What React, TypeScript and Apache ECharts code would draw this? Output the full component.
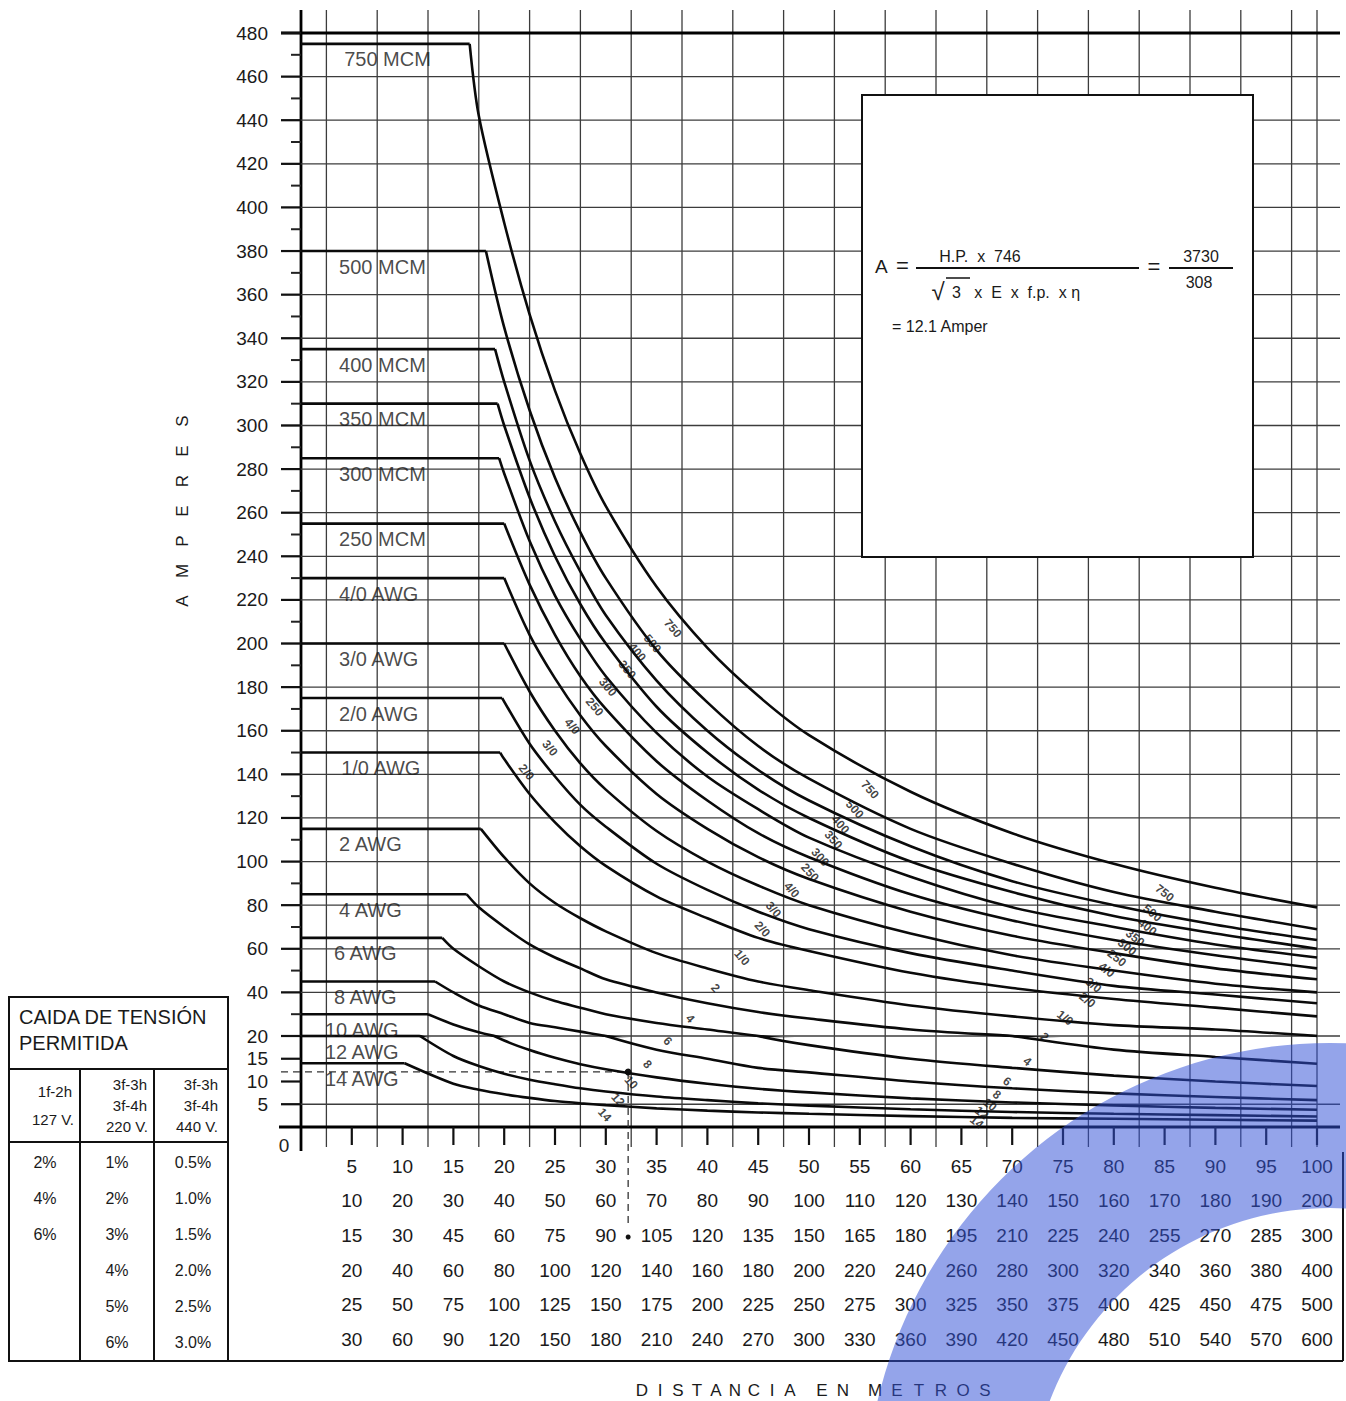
import React, { useEffect, useRef } from "react";
import * as echarts from "echarts";

const FONT = "'Liberation Sans', Arial, Helvetica, sans-serif";

// ---- conductors ----
const CABLES = ["750 MCM", "500 MCM", "400 MCM", "350 MCM", "300 MCM", "250 MCM", "4/0 AWG", "3/0 AWG", "2/0 AWG", "1/0 AWG", "2 AWG", "4 AWG", "6 AWG", "8 AWG", "10 AWG", "12 AWG", "14 AWG"];
const TAGS = ["750", "500", "400", "350", "300", "250", "4/0", "3/0", "2/0", "1/0", "2", "4", "6", "8", "10", "12", "14"];
const AMPACITY = [475, 380, 335, 310, 285, 255, 230, 200, 175, 150, 115, 85, 65, 45, 30, 20, 14];
const KNEE = [16.6, 18.2, 19.1, 19.35, 19.5, 20, 20, 20, 19.8, 19.6, 17.7, 16.3, 13.9, 13.2, 12.5, 11.7, 10.2];
const LABEL_AT = [4.3, 3.8, 3.8, 3.8, 3.8, 3.8, 3.8, 3.8, 3.8, 4.0, 3.8, 3.8, 3.3, 3.3, 2.4, 2.4, 2.4];

// distances (first row of the scale) at which the falling part of each curve is read
const DIST = [15, 17.5, 20, 22.5, 25, 27.5, 30, 35, 40, 45, 50, 60, 70, 80, 90, 100];
const A_750 = [null, 442, 393, 351, 316, 287, 263, 226, 198, 176, 158, 132, 113, 99, 88, 79];
const A_500 = [null, null, 345, 307, 276, 251, 230, 197, 173, 153, 138, 115, 99, 86, 77, 69];
const A_400 = [null, null, 320, 284, 256, 233, 213, 183, 160, 142, 128, 107, 91, 80, 71, 64];
const A_350 = [null, null, 300, 267, 240, 218, 200, 171, 150, 133, 120, 100, 86, 75, 67, 60];
const A_300 = [null, null, 278, 247, 222, 202, 185, 159, 139, 124, 111, 93, 79, 70, 62, 56];
const A_250 = [null, null, null, 227, 204, 185, 170, 146, 128, 113, 102, 85, 73, 64, 57, 51];
const A_4_0 = [null, null, null, 204, 184, 167, 153, 131, 115, 102, 92, 77, 66, 58, 51, 46];
const A_3_0 = [null, null, null, 178, 160, 145, 133, 114, 100, 89, 80, 67, 57, 50, 44, 40];
const A_2_0 = [null, null, null, 154, 139, 126, 116, 99, 87, 77, 69, 58, 50, 43, 39, 35];
const A_1_0 = [null, null, 147, 131, 118, 107, 98, 84, 74, 65, 59, 49, 42, 37, 33, 29];
const A_2 = [null, null, 102, 90, 81, 74, 68, 58, 51, 45, 41, 34, 29, 25, 23, 20];
const A_4 = [null, 79, 70, 62, 56, 51, 46, 40, 35, 31, 28, 23, 20, 17, 15.4, 13.9];
const A_6 = [60, 52, 45, 40, 36, 33, 30, 26, 23, 20, 18, 15, 13, 11.3, 10, 9];
const A_8 = [40, 34, 30, 26, 24, 22, 20, 17, 15, 13, 12, 10, 8.5, 7.4, 6.6, 5.9];
const A_10 = [25.3, 21.7, 19, 16.9, 15.2, 13.8, 12.7, 10.9, 9.5, 8.4, 7.6, 6.3, 5.4, 4.75, 4.2, 3.8];
const A_12 = [15.6, 13.4, 11.7, 10.4, 9.4, 8.5, 7.8, 6.7, 5.9, 5.2, 4.7, 3.9, 3.3, 2.9, 2.6, 2.3];
const A_14 = [9.5, 8.2, 7.2, 6.4, 5.7, 5.2, 4.8, 4.1, 3.6, 3.2, 2.9, 2.4, 2.0, 1.8, 1.6, 1.4];
const CURVES = [A_750, A_500, A_400, A_350, A_300, A_250, A_4_0, A_3_0, A_2_0, A_1_0, A_2, A_4, A_6, A_8, A_10, A_12, A_14];

// small gauge tags written along the curves (three groups)
const TAG1_X = [36.6, 34.6, 33.1, 32.1, 30.2, 28.9, 26.7, 24.5, 22.2];
const TAG1_Y = [207, 200, 196, 188, 180, 171, 162, 152, 141];
const TAG2_X = [56.0, 54.5, 53.1, 52.4, 51.1, 50.1, 48.3, 46.5, 45.4, 43.4, 40.8, 38.3, 36.1, 34.1, 32.5, 31.2, 29.9];
const TAG2_Y = [133, 124, 117, 110, 102, 95, 87, 78, 69, 56, 42, 28, 18.9, 13.8, 9.8, 6.0, 2.7];
const TAG3_X = [85.0, 83.8, 83.3, 82.1, 81.3, 80.3, 79.3, 78.0, 77.4, 75.2, 73.2, 71.5, 69.5, 68.5, 67.8, 67.0, 66.5];
const TAG3_Y = [85.6, 76.4, 70.0, 65.0, 60.8, 55.8, 50.3, 43.4, 36.5, 28.3, 19.8, 14.4, 10.0, 7.1, 4.9, 3.1, 1.1];

// axes
const AMP_LINES = [20, 40, 60, 80, 100, 120, 140, 160, 180, 200, 220, 240, 260, 280, 300, 320, 340, 360, 380, 400, 420, 440, 460, 480];
const AMP_MINOR = [30, 50, 70, 90, 110, 130, 150, 170, 190, 210, 230, 250, 270, 290, 310, 330, 350, 370, 390, 410, 430, 450, 470];
const AMP_LOW_LINES = [5];
const AMP_LOW_TICKS = [5, 10, 15];
const DIST_GRID = [0, 2.5, 7.5, 12.5, 17.5, 22.5, 27.5, 32.5, 37.5, 42.5, 47.5, 52.5, 57.5, 62.5, 67.5, 72.5, 77.5, 82.5, 87.5, 92.5, 97.5, 100];
const DIST_TICKS = [5, 10, 15, 20, 25, 30, 35, 40, 45, 50, 55, 60, 65, 70, 75, 80, 85, 90, 95, 100];
const ROW_FACTORS = [1, 2, 3, 4, 5, 6];
const EXAMPLE_AMP = 12.1;
const EXAMPLE_DIST = 32.2;

// voltage drop table
const DROP_127 = ["2%", "4%", "6%"];
const DROP_220 = ["1%", "2%", "3%", "4%", "5%", "6%"];
const DROP_440 = ["0.5%", "1.0%", "1.5%", "2.0%", "2.5%", "3.0%"];

const GRID_C = "#3c3c3c";

function elementSeries(gridIndex: number, els: any[]) {
  return {
    type: "custom",
    xAxisIndex: gridIndex,
    yAxisIndex: gridIndex,
    clip: false,
    silent: true,
    z: 1,
    data: els.map((e) => e.a),
    renderItem: (params: any, api: any) => {
      const e = els[params.dataIndex];
      const p = api.coord(e.a);
      if (e.k === "l") {
        const q = api.coord(e.b);
        const da = e.da || [0, 0];
        const db = e.db || [0, 0];
        const style: any = { stroke: e.c, lineWidth: e.w };
        if (e.dash) style.lineDash = e.dash;
        return {
          type: "line",
          shape: { x1: p[0] + da[0], y1: p[1] + da[1], x2: q[0] + db[0], y2: q[1] + db[1] },
          style,
        };
      }
      if (e.k === "t") {
        return {
          type: "text",
          x: p[0] + e.d[0],
          y: p[1] + e.d[1],
          style: { text: e.text, fill: "#222", font: `${e.size}px ${FONT}`, align: "center", verticalAlign: "middle" },
        };
      }
      return {
        type: "circle",
        shape: { cx: p[0] + e.d[0], cy: p[1] + e.d[1], r: e.r },
        style: { fill: "#111" },
      };
    },
  };
}

function buildOption() {
  // ---- grid lines / ticks ----
  const upper: any[] = [];
  DIST_GRID.forEach((x) =>
    upper.push({ k: "l", a: [x, 480], da: [0, -23], b: [x, 20], w: x === 0 ? 2.8 : 1.3, c: x === 0 ? "#000" : GRID_C })
  );
  AMP_LINES.forEach((y) => {
    upper.push({ k: "l", a: [0, y], da: [-20, 0], b: [100, y], db: [23, 0], w: y === 480 ? 2.8 : 1.3, c: y === 480 ? "#000" : GRID_C });
    upper.push({ k: "l", a: [0, y], da: [-20, 0], b: [0, y], w: 2.2, c: "#111" });
  });
  AMP_MINOR.forEach((y) => upper.push({ k: "l", a: [0, y], da: [-10, 0], b: [0, y], w: 2, c: "#222" }));

  const lower: any[] = [];
  DIST_GRID.forEach((x) =>
    lower.push({ k: "l", a: [x, 20], b: [x, 0], db: [0, x === 0 ? 24 : 20], w: x === 0 ? 2.8 : 1.3, c: x === 0 ? "#000" : GRID_C })
  );
  AMP_LOW_LINES.forEach((y) => lower.push({ k: "l", a: [0, y], da: [-20, 0], b: [100, y], db: [23, 0], w: 1.3, c: GRID_C }));
  AMP_LOW_TICKS.forEach((y) => lower.push({ k: "l", a: [0, y], da: [-20, 0], b: [0, y], w: 2.2, c: "#111" }));
  lower.push({ k: "l", a: [0, 0], da: [-22, 0], b: [100, 0], db: [23, 0], w: 2.8, c: "#000" });
  DIST_TICKS.forEach((x) => lower.push({ k: "l", a: [x, 0], b: [x, 0], db: [0, 18], w: 2.2, c: "#111" }));
  lower.push({ k: "l", a: [0, EXAMPLE_AMP], da: [-20, 0], b: [EXAMPLE_DIST, EXAMPLE_AMP], w: 1.3, c: "#333", dash: [7, 5] });
  lower.push({ k: "l", a: [EXAMPLE_DIST, EXAMPLE_AMP], b: [EXAMPLE_DIST, 0], db: [0, 98], w: 1.3, c: "#333", dash: [7, 5] });
  lower.push({ k: "c", a: [EXAMPLE_DIST, EXAMPLE_AMP], d: [0, 0], r: 3.5 });
  lower.push({ k: "c", a: [EXAMPLE_DIST, 0], d: [0, 110], r: 2.5 });
  lower.push({ k: "t", a: [0, 0], d: [-17, 18], text: "0", size: 19 });

  const series: any[] = [elementSeries(0, upper), elementSeries(1, lower)];

  // ---- curves ----
  const lineCommon = {
    type: "line",
    showSymbol: false,
    symbol: "none",
    clip: true,
    silent: true,
    z: 3,
    lineStyle: { color: "#0a0a0a", width: 2.6 },
  };
  CURVES.forEach((vals, i) => {
    const P = AMPACITY[i];
    const k = KNEE[i];
    const decay: number[][] = [[k, P]];
    DIST.forEach((d, j) => {
      if (vals[j] != null) decay.push([d, vals[j] as number]);
    });
    const minV = Math.min(...(vals.filter((v) => v != null) as number[]));
    const grids: number[] = [];
    if (P >= 19.5) grids.push(0);
    if (minV < 20.5) grids.push(1);
    grids.forEach((g) => {
      series.push({ ...lineCommon, xAxisIndex: g, yAxisIndex: g, data: [[0, P], [k, P]] });
      series.push({ ...lineCommon, xAxisIndex: g, yAxisIndex: g, data: decay, smooth: 0.3 });
    });
  });

  // ---- plateau names ----
  const nameData = [[], []] as any[][];
  CABLES.forEach((c, i) => {
    const g = AMPACITY[i] >= 19.5 ? 0 : 1;
    nameData[g].push({ name: c, value: [LABEL_AT[i], AMPACITY[i]] });
  });
  [0, 1].forEach((g) =>
    series.push({
      type: "scatter",
      xAxisIndex: g,
      yAxisIndex: g,
      symbolSize: 1,
      itemStyle: { color: "rgba(0,0,0,0)" },
      silent: true,
      clip: false,
      z: 5,
      data: nameData[g],
      label: {
        show: true,
        position: [0, 16],
        align: "left",
        verticalAlign: "middle",
        formatter: "{b}",
        fontSize: 20,
        color: "#1a1a1a",
        fontFamily: FONT,
      },
    })
  );

  // ---- gauge tags along curves ----
  const tagData = [[], []] as any[][];
  const addTags = (xs: number[], ys: number[], rot: number) => {
    xs.forEach((x, i) => {
      const g = ys[i] >= 20 ? 0 : 1;
      tagData[g].push({ name: TAGS[i], value: [x, ys[i]], label: { rotate: rot } });
    });
  };
  addTags(TAG1_X, TAG1_Y, -50);
  addTags(TAG2_X, TAG2_Y, -48);
  addTags(TAG3_X, TAG3_Y, -38);
  [0, 1].forEach((g) =>
    series.push({
      type: "scatter",
      xAxisIndex: g,
      yAxisIndex: g,
      symbolSize: 1,
      itemStyle: { color: "rgba(0,0,0,0)" },
      silent: true,
      clip: false,
      z: 6,
      data: tagData[g],
      label: {
        show: true,
        position: "inside",
        formatter: "{b}",
        fontSize: 12,
        fontWeight: "bold",
        color: "#111",
        fontFamily: FONT,
      },
    })
  );

  // ---- static graphics ----
  const T = (text: string, x: number, y: number, size: number, align = "left", extra: any = {}) => ({
    type: "text",
    x,
    y,
    z: 60,
    style: { text, fill: "#1a1a1a", font: `${size}px ${FONT}`, align, verticalAlign: "middle" },
    ...extra,
  });
  const L = (x1: number, y1: number, x2: number, y2: number, w = 2, c = "#111") => ({
    type: "line",
    z: 60,
    shape: { x1, y1, x2, y2 },
    style: { stroke: c, lineWidth: w },
  });

  const graphic: any[] = [];
  // formula box
  graphic.push({ type: "rect", z: 55, shape: { x: 862, y: 95, width: 391, height: 462 }, style: { fill: "#fff", stroke: "#111", lineWidth: 2 } });
  graphic.push(T("A", 875, 266, 19));
  graphic.push(T("=", 896, 265, 22));
  graphic.push(T("H.P.  x  746", 980, 256, 16, "center"));
  graphic.push(L(916, 268, 1139, 268, 1.8));
  graphic.push(T("√", 938, 291, 24, "center"));
  graphic.push(L(946, 278, 970, 278, 1.5));
  graphic.push(T("3   x  E  x  f.p.  x η", 952, 292, 16, "left"));
  graphic.push(T("=", 1154, 266, 22, "center"));
  graphic.push(T("3730", 1201, 256, 16, "center"));
  graphic.push(L(1169, 268, 1233, 268, 1.8));
  graphic.push(T("308", 1199, 282, 16, "center"));
  graphic.push(T("= 12.1 Amper", 892, 326, 16, "left"));

  // table
  graphic.push({ type: "rect", z: 55, shape: { x: 9, y: 997, width: 219, height: 364 }, style: { fill: "#fff", stroke: "#111", lineWidth: 2 } });
  graphic.push(L(9, 1069, 228, 1069));
  graphic.push(L(9, 1142, 228, 1142));
  graphic.push(L(80, 1069, 80, 1361));
  graphic.push(L(154, 1069, 154, 1361));
  graphic.push(T("CAIDA DE TENSIÓN", 19, 1017, 20));
  graphic.push(T("PERMITIDA", 19, 1043, 20));
  graphic.push(T("1f-2h", 72, 1091, 15, "right"));
  graphic.push(T("127 V.", 74, 1119, 15, "right"));
  graphic.push(T("3f-3h", 147, 1084, 15, "right"));
  graphic.push(T("3f-4h", 147, 1105, 15, "right"));
  graphic.push(T("220 V.", 148, 1126, 15, "right"));
  graphic.push(T("3f-3h", 218, 1084, 15, "right"));
  graphic.push(T("3f-4h", 218, 1105, 15, "right"));
  graphic.push(T("440 V.", 218, 1126, 15, "right"));
  const rowY = [1162, 1198, 1234, 1270, 1306, 1342];
  DROP_127.forEach((t, i) => graphic.push(T(t, 45, rowY[i], 16, "center")));
  DROP_220.forEach((t, i) => graphic.push(T(t, 117, rowY[i], 16, "center")));
  DROP_440.forEach((t, i) => graphic.push(T(t, 193, rowY[i], 16, "center")));

  // frame of the distance scale
  graphic.push(L(9, 1361, 1343, 1361));
  graphic.push(L(1343, 1152, 1343, 1361));

  // axis titles
  const amp = ["A", "M", "P", "E", "R", "E", "S"];
  const ampY = [601, 571, 541, 511, 481, 451, 421];
  amp.forEach((ch, i) => graphic.push(T(ch, 182, ampY[i], 17, "center", { rotation: Math.PI / 2 })));
  const dist = "DISTANCIAENMETROS".split("");
  const distX = [642, 660, 678, 697, 716, 735, 754, 772, 790, 822, 843, 875, 897, 919, 941, 963, 985];
  dist.forEach((ch, i) => graphic.push(T(ch, distX[i], 1390, 17, "center")));

  // blue watermark ring
  graphic.push({
    type: "ring",
    z: 100,
    silent: true,
    shape: { cx: 1330, cy: 1508, r: 465, r0: 300 },
    style: { fill: "rgba(50,80,215,0.52)" },
  });

  return {
    animation: false,
    backgroundColor: "#fff",
    grid: [
      { left: 301, top: 33, width: 1016, height: 1003, outerBoundsMode: "none", containLabel: false },
      { left: 301, top: 1036, width: 1016, height: 91, outerBoundsMode: "none", containLabel: false },
    ],
    xAxis: [
      { gridIndex: 0, type: "value", min: 0, max: 100, show: false },
      {
        gridIndex: 1,
        type: "value",
        min: 0,
        max: 100,
        interval: 5,
        axisLine: { show: false },
        axisTick: { show: false },
        splitLine: { show: false },
        axisLabel: {
          margin: 22,
          fontSize: 19,
          lineHeight: 34.6,
          color: "#1a1a1a",
          fontFamily: FONT,
          alignMinLabel: "center",
          alignMaxLabel: "center",
          formatter: (v: number) => (v <= 0 || v > 100 ? "" : ROW_FACTORS.map((f) => String(f * v)).join("\n")),
        },
      },
    ],
    yAxis: [
      {
        gridIndex: 0,
        type: "value",
        min: 20,
        max: 480,
        interval: 20,
        axisLine: { show: false },
        axisTick: { show: false },
        splitLine: { show: false },
        axisLabel: {
          margin: 33,
          fontSize: 19,
          color: "#1a1a1a",
          fontFamily: FONT,
          verticalAlignMinLabel: "middle",
          verticalAlignMaxLabel: "middle",
        },
      },
      {
        gridIndex: 1,
        type: "value",
        min: 0,
        max: 20,
        interval: 5,
        axisLine: { show: false },
        axisTick: { show: false },
        splitLine: { show: false },
        axisLabel: {
          margin: 33,
          fontSize: 19,
          color: "#1a1a1a",
          fontFamily: FONT,
          verticalAlignMinLabel: "middle",
          verticalAlignMaxLabel: "middle",
          formatter: (v: number) => (v === 0 || v === 20 ? "" : String(v)),
        },
      },
    ],
    series,
    graphic,
  };
}

export default function App() {
  const ref = useRef<HTMLDivElement>(null);
  useEffect(() => {
    document.body.style.margin = "0";
    const chart = echarts.init(ref.current as HTMLDivElement, undefined, { renderer: "svg" });
    chart.setOption(buildOption() as any);
    return () => chart.dispose();
  }, []);
  return <div ref={ref} style={{ width: 1346, height: 1401, background: "#fff" }} />;
}
